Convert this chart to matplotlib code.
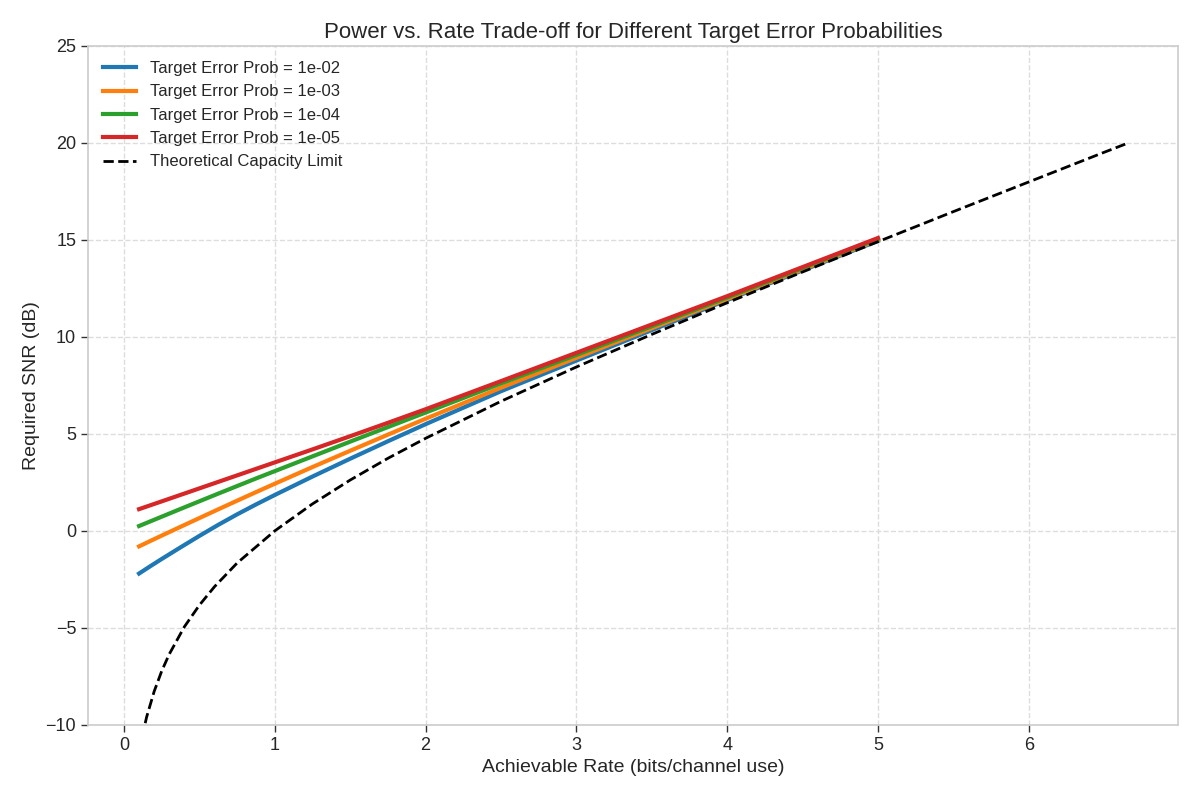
import matplotlib
matplotlib.use("Agg")
import matplotlib.pyplot as plt

# Rates (bits/channel use) at which the curves were read
rates = [0.1, 0.175, 0.25, 0.375, 0.5, 0.625, 0.75, 0.875, 1.0, 1.25, 1.5, 1.75,
         2.0, 2.5, 3.0, 3.5, 4.0, 4.5, 5.0]
snr_1e2 = [-2.2, -1.82, -1.45, -0.85, -0.26, 0.31, 0.85, 1.36, 1.85, 2.8, 3.72, 4.62,
           5.5, 7.2, 8.78, 10.35, 11.9, 13.43, 14.95]
snr_1e3 = [-0.8, -0.52, -0.245, 0.21, 0.66, 1.11, 1.555, 1.995, 2.43, 3.29, 4.13, 4.96,
           5.78, 7.38, 8.92, 10.45, 11.96, 13.48, 15.0]
snr_1e4 = [0.25, 0.49, 0.73, 1.13, 1.525, 1.92, 2.31, 2.7, 3.08, 3.84, 4.6, 5.35,
           6.1, 7.6, 9.07, 10.55, 12.03, 13.55, 15.05]
snr_1e5 = [1.12, 1.32, 1.52, 1.855, 2.19, 2.525, 2.86, 3.195, 3.53, 4.2, 4.88, 5.57,
           6.27, 7.72, 9.18, 10.64, 12.1, 13.6, 15.1]
labels = ["Target Error Prob = 1e-02", "Target Error Prob = 1e-03",
          "Target Error Prob = 1e-04", "Target Error Prob = 1e-05"]

cap_rates = [0.1, 0.12, 0.15, 0.2, 0.25, 0.3, 0.4, 0.5, 0.6, 0.75, 1.0, 1.25, 1.5,
             1.75, 2.0, 2.5, 3.0, 3.5, 4.0, 4.5, 5.0, 5.5, 6.0, 6.5, 6.66]
cap_snr = [-11.4, -10.62, -9.6, -8.28, -7.23, -6.36, -4.95, -3.83, -2.88, -1.66, 0.0,
           1.39, 2.62, 3.74, 4.77, 6.68, 8.45, 10.13, 11.76, 13.35, 14.91, 16.46,
           17.99, 19.52, 20.0]

plt.rcParams['font.family'] = ['Liberation Sans', 'DejaVu Sans']

fig, ax = plt.subplots(figsize=(12, 8), dpi=100)
fig.subplots_adjust(left=0.0733, right=0.9817, top=0.9425, bottom=0.094)

colors = ["#1f77b4", "#ff7f0e", "#2ca02c", "#d62728"]
for ys, lab, c in zip([snr_1e2, snr_1e3, snr_1e4, snr_1e5], labels, colors):
    ax.plot(rates, ys, color=c, lw=3, label=lab)
ax.plot(cap_rates, cap_snr, 'k--', lw=2, label="Theoretical Capacity Limit")

ax.set_ylim(-10, 25)
ax.set_xlim(-0.239, 6.99)
ax.set_xticks(range(0, 7))
ax.set_yticks(range(-10, 26, 5))

ax.grid(True, linestyle='--', color='#dddddd', linewidth=1)
for s in ax.spines.values():
    s.set_color('#cccccc')
    s.set_linewidth(1.2)
ax.tick_params(axis='both', labelsize=13, length=5, width=1, color='#333333',
               labelcolor='#262626')

ax.set_title("Power vs. Rate Trade-off for Different Target Error Probabilities",
             fontsize=16, color='#262626')
ax.set_xlabel("Achievable Rate (bits/channel use)", fontsize=14, color='#262626')
ax.set_ylabel("Required SNR (dB)", fontsize=14, color='#262626')

leg = ax.legend(loc='upper left', frameon=False, fontsize=12, handlelength=2)
for t in leg.get_texts():
    t.set_color('#262626')

fig.savefig("out.png", dpi=100)
